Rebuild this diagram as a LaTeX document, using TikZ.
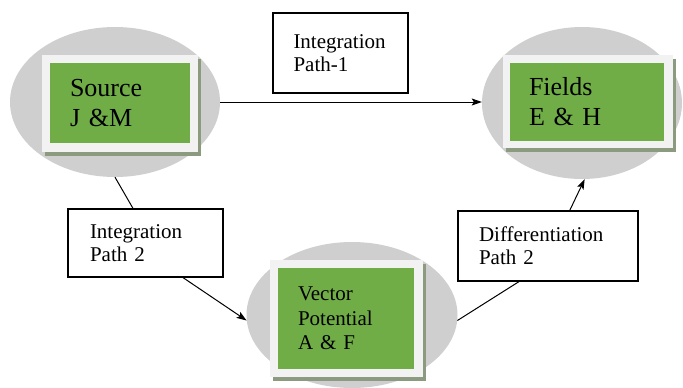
\documentclass[tikz,border=0pt]{standalone}
\usepackage{fontspec}
\setmainfont{Liberation Serif}
\usetikzlibrary{arrows.meta,calc,shapes.geometric,shadows}

\definecolor{ovalgray}{RGB}{207,207,208}
\definecolor{framegray}{RGB}{242,242,242}
\definecolor{leafgreen}{RGB}{112,173,71}
\definecolor{shadowolive}{RGB}{140,155,128}

\begin{document}
\begin{tikzpicture}[x=1pt,y=-1pt,
  oval/.style={ellipse, fill=ovalgray, inner sep=0pt},
  frame/.style={rectangle, fill=framegray, inner sep=0pt,
    drop shadow={shadow xshift=2.5pt, shadow yshift=-4pt, fill=shadowolive, opacity=1}},
  greenbox/.style={rectangle, fill=leafgreen, inner sep=0pt, align=left},
  bigtext/.style={font=\fontsize{26pt}{30pt}\selectfont},
  midtext/.style={font=\fontsize{21pt}{24.5pt}\selectfont},
  labelbox/.style={rectangle, draw=black, line width=1.2pt, fill=white, inner sep=0pt,
    align=left, font=\fontsize{21pt}{23pt}\selectfont},
  conn/.style={draw=black, line width=1pt},
  arr/.style={conn, -{Stealth[length=10pt,width=7pt,inset=2pt]}}
]
% page and background
\fill[white] (0,0) rectangle (683,388);
\useasboundingbox (0,0) rectangle (683,388);

% grey ovals behind the three quantities
\node[oval, minimum width=210pt, minimum height=150pt] (src) at (115,102) {};
\node[oval, minimum width=200pt, minimum height=152pt] (fld) at (582,103) {};
\node[oval, minimum width=211pt, minimum height=146pt] (vec) at (352,315) {};

% framed green panels
\node[frame, minimum width=156pt, minimum height=97pt] (srcf) at (120,103.5) {};
\node[greenbox, bigtext, minimum width=140pt, minimum height=80pt, text width=100pt]
  (srcg) at (120,103) {Source\\J \&M};

\node[frame, minimum width=170pt, minimum height=93pt] (fldf) at (588,101.5) {};
\node[greenbox, bigtext, minimum width=154pt, minimum height=78pt, text width=116pt]
  (fldg) at (587,102) {Fields\\E \& H};

\node[frame, minimum width=153pt, minimum height=117pt] (vecf) at (346.5,318.5) {};
\node[greenbox, midtext, minimum width=136pt, minimum height=101pt, text width=96pt]
  (vecg) at (346,318.5) {Vector\\Potential\\A \& F};

% path labels
\node[labelbox, minimum width=135pt, minimum height=80pt, text width=94pt]
  (ip1) at (340.5,53) {Integration\\Path-1};
\node[labelbox, minimum width=155pt, minimum height=68pt, text width=111pt]
  (ip2) at (145.5,243) {Integration\\Path 2};
\node[labelbox, minimum width=180pt, minimum height=70pt, text width=138pt]
  (dif) at (548,246) {Differentiation\\Path 2};

% connectors
\draw[arr] (src.east) -- (src.east -| fld.west);
\draw[conn] (src.south) -- ($(ip2.north west)!0.42!(ip2.north east)$);
\draw[arr] ($(ip2.south west)!0.74!(ip2.south east)$) -- (vec.183);
\draw[conn] (vec.357) -- ($(dif.south west)!0.34!(dif.south east)$);
\draw[arr] ($(dif.north west)!0.62!(dif.north east)$) -- (fld.272);
\end{tikzpicture}
\end{document}
